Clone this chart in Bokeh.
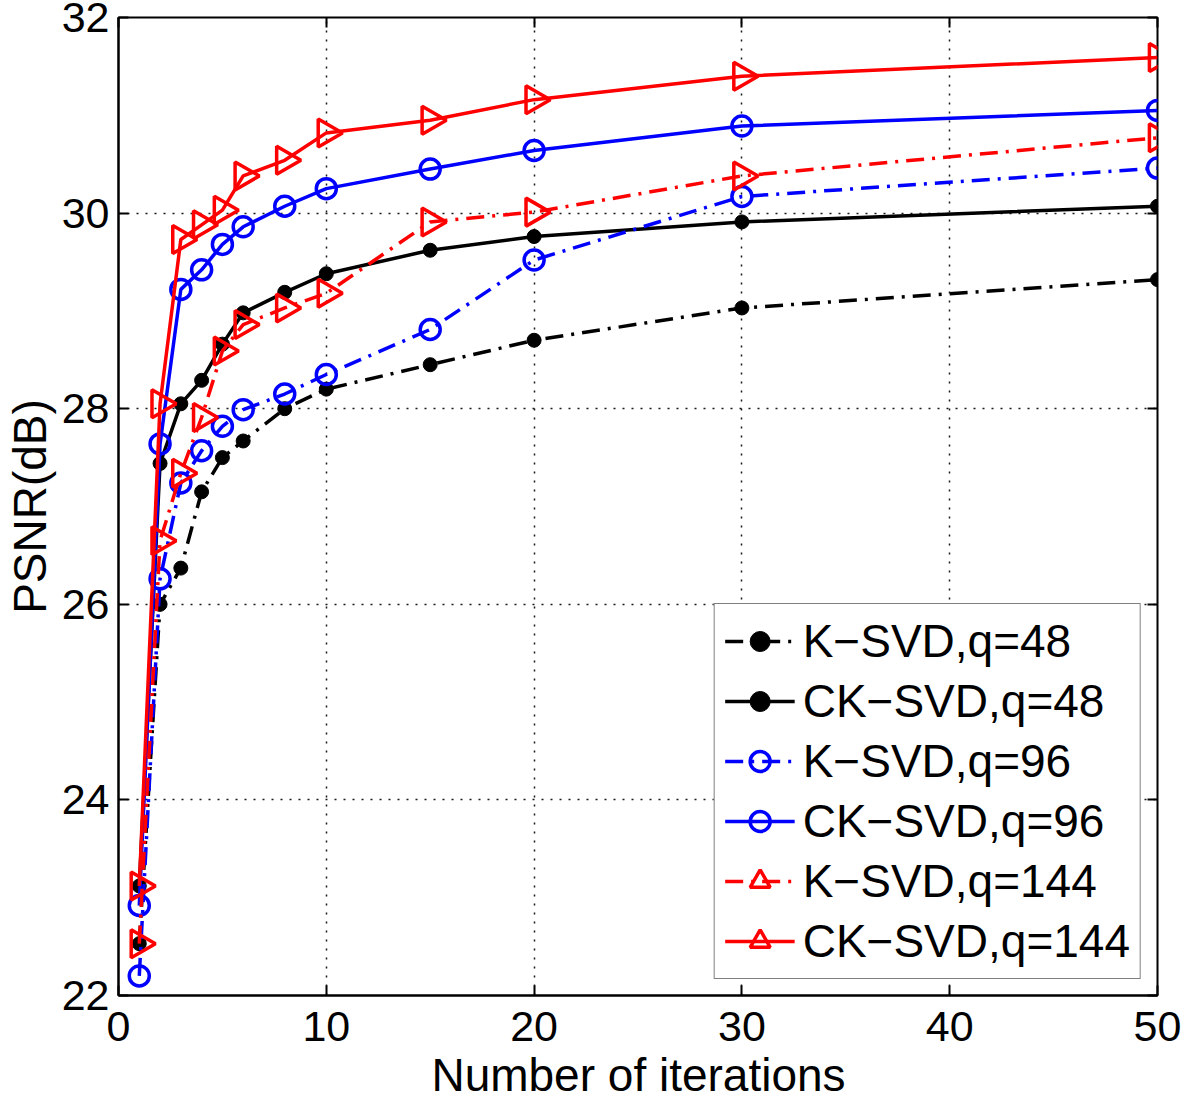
import numpy as np
from bokeh.plotting import figure
from bokeh.models import LinearAxis, FixedTicker, Range1d, Legend, Label
from bokeh.embed import file_html
from bokeh.resources import INLINE

iterations = [1, 2, 3, 4, 5, 6, 8, 10, 15, 20, 30, 50]
ksvd_48 = [22.53, 26.00, 26.37, 27.15, 27.50, 27.67, 28.00, 28.20, 28.45, 28.70, 29.03, 29.32]
cksvd_48 = [23.12, 27.44, 28.05, 28.29, 28.66, 28.98, 29.19, 29.38, 29.62, 29.76, 29.91, 30.07]
ksvd_96 = [22.20, 26.26, 27.24, 27.57, 27.82, 27.99, 28.15, 28.35, 28.81, 29.52, 30.17, 30.46]
cksvd_96 = [22.92, 27.64, 29.22, 29.42, 29.68, 29.86, 30.07, 30.25, 30.45, 30.64, 30.89, 31.05]
ksvd_144 = [22.53, 26.65, 27.34, 27.91, 28.59, 28.86, 29.03, 29.18, 29.91, 30.01, 30.38, 30.77]
cksvd_144 = [23.12, 28.05, 29.73, 29.88, 30.03, 30.38, 30.54, 30.82, 30.95, 31.16, 31.40, 31.59]

labels = ["K\u2212SVD,q=48", "CK\u2212SVD,q=48", "K\u2212SVD,q=96",
          "CK\u2212SVD,q=96", "K\u2212SVD,q=144", "CK\u2212SVD,q=144"]
x_ticks = [0, 10, 20, 30, 40, 50]
y_ticks = [22, 24, 26, 28, 30, 32]
x_title = "Number of iterations"
y_title = "PSNR(dB)"

FONT = "Liberation Sans"
FS = "43px"

p = figure(width=1181, height=1095, output_backend="svg", toolbar_location=None,
           x_range=Range1d(0, 50), y_range=Range1d(22, 32),
           min_border_left=117, min_border_top=17, min_border_right=24, min_border_bottom=97)
p.background_fill_color = "white"
p.border_fill_color = "white"
p.outline_line_color = "black"
p.outline_line_width = 2

for ax in (p.xaxis[0], p.yaxis[0]):
    ax.major_label_text_font = FONT
    ax.major_label_text_font_size = FS
    ax.axis_label_text_font = FONT
    ax.axis_label_text_font_size = "46px"
    ax.axis_label_text_font_style = "normal"
    ax.axis_label_text_color = "black"
    ax.major_tick_in = 10
    ax.major_tick_out = 0
    ax.minor_tick_line_color = None
    ax.axis_line_width = 2
    ax.major_tick_line_width = 2
    ax.major_label_text_color = "black"

p.xaxis.ticker = FixedTicker(ticks=x_ticks)
p.yaxis.ticker = FixedTicker(ticks=y_ticks)
p.xaxis.major_label_standoff = 16
p.yaxis.major_label_standoff = 9
p.yaxis.axis_label = y_title
p.yaxis.axis_label_standoff = 3

top = LinearAxis(ticker=FixedTicker(ticks=x_ticks),
                 major_label_overrides={t: "" for t in x_ticks},
                 major_label_text_font_size="1px",
                 major_label_standoff=0, axis_line_color=None, major_tick_in=10,
                 major_tick_out=0, minor_tick_line_color=None, major_tick_line_width=2)
right = LinearAxis(ticker=FixedTicker(ticks=y_ticks),
                   major_label_overrides={t: "" for t in y_ticks},
                   major_label_text_font_size="1px",
                   major_label_standoff=0, axis_line_color=None, major_tick_in=10,
                   major_tick_out=0, minor_tick_line_color=None, major_tick_line_width=2)
p.add_layout(top, "above")
p.add_layout(right, "right")

# x-axis title as a label in the panel below the x axis
xlab = Label(x=520, y=21, x_units="screen", y_units="screen", text=x_title,
             text_font=FONT, text_font_size="46px", text_color="black",
             text_align="center", text_baseline="alphabetic")
p.add_layout(xlab, "below")

p.grid.grid_line_color = "black"
p.grid.grid_line_dash = "2 7"
p.grid.grid_line_width = 1.5
p.grid.grid_line_alpha = 0.9

DASHDOT = "18 8 3 8"
LW = 3.5
items = []

def series(ys, color, dash, marker, label):
    r1 = p.line(iterations, ys, line_color=color, line_width=LW, line_dash=dash)
    if marker == "dot":
        r2 = p.scatter(iterations, ys, marker="circle", size=14, fill_color=color,
                       line_color=color, line_width=1)
    elif marker == "circle":
        r2 = p.scatter(iterations, ys, marker="circle", size=20, fill_color=None,
                       line_color=color, line_width=LW)
    else:
        r2 = p.scatter(iterations, ys, marker="triangle", size=28, angle=-np.pi / 2,
                       fill_color=None, line_color=color, line_width=LW)
    items.append((label, [r1, r2]))

series(ksvd_48, "black", DASHDOT, "dot", labels[0])
series(cksvd_48, "black", "solid", "dot", labels[1])
series(ksvd_96, "#0000ff", DASHDOT, "circle", labels[2])
series(cksvd_96, "#0000ff", "solid", "circle", labels[3])
series(ksvd_144, "#ff0000", DASHDOT, "triangle", labels[4])
series(cksvd_144, "#ff0000", "solid", "triangle", labels[5])

legend = Legend(items=items, location="bottom_right")
legend.label_text_font = FONT
legend.label_text_font_size = "46px"
legend.label_text_color = "black"
legend.glyph_width = 70
legend.glyph_height = 50
legend.label_height = 50
legend.spacing = 6
legend.padding = 10
legend.margin = 16
legend.label_standoff = 8
legend.border_line_color = "black"
legend.border_line_width = 1.5
legend.background_fill_color = "white"
legend.background_fill_alpha = 1
p.add_layout(legend, "center")

open("out.html", "w").write(file_html(p, INLINE))
